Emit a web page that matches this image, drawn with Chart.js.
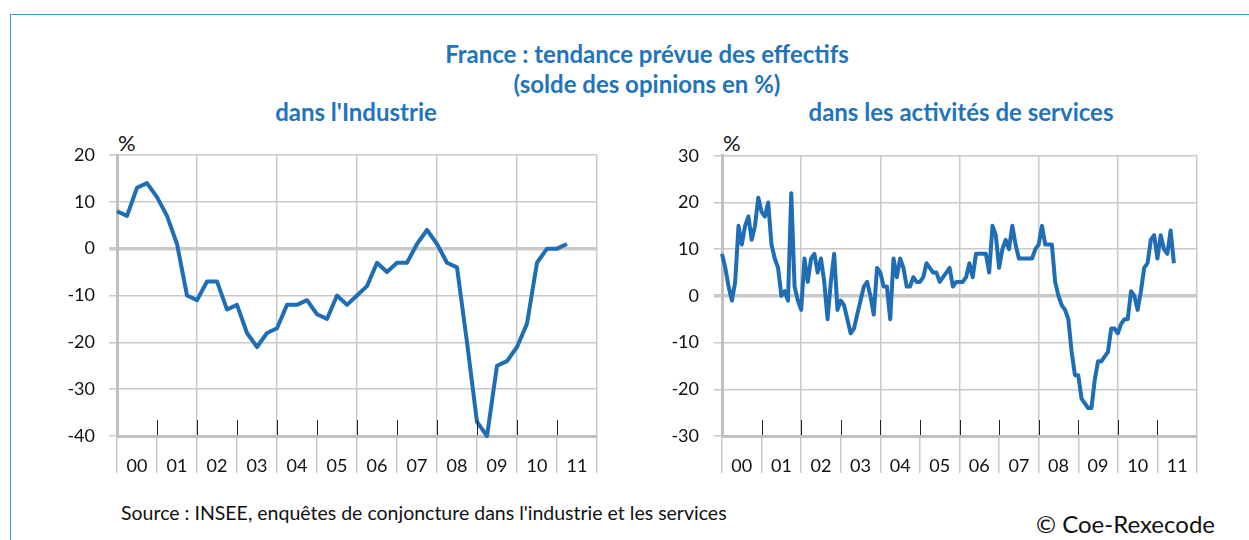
<!DOCTYPE html>
<html>
<head>
<meta charset="utf-8">
<script src="https://cdn.jsdelivr.net/npm/chart.js@4/dist/chart.umd.min.js"></script>
<style>
  html, body { margin: 0; padding: 0; background: #fff; }
  body { width: 1249px; height: 540px; position: relative; overflow: hidden; font-family: Lato, "Open Sans", sans-serif; }
  .frame { position: absolute; left: 10px; top: 14px; width: 1400px; height: 700px; border-left: 1.5px solid #4a9ad6; border-top: 1.5px solid #4a9ad6; }
  .t { position: absolute; text-align: center; color: #1f74bb; font-weight: bold; font-size: 24px; line-height: 28px; white-space: nowrap; }
  .pct { position: absolute; color: #111; font-size: 22px; line-height: 22px; }
  .src { position: absolute; color: #111; font-size: 19.5px; line-height: 22px; white-space: nowrap; }
  canvas { position: absolute; }
</style>
</head>
<body>
<div class="frame"></div>
<div class="t" style="left:347px; width:600px; top:40px;">France : tendance prévue des effectifs</div>
<div class="t" style="left:347px; width:600px; top:70px;">(solde des opinions en %)</div>
<div class="t" style="left:56px; width:600px; top:98px;">dans l'Industrie</div>
<div class="t" style="left:661px; width:600px; top:98px;">dans les activités de services</div>
<div class="pct" style="left:118px; top:132px;">%</div>
<div class="pct" style="left:723px; top:132px;">%</div>
<canvas id="c1" width="570" height="350" style="left:40px; top:130px;"></canvas>
<canvas id="c2" width="565" height="350" style="left:645px; top:130px;"></canvas>
<div class="src" style="left:121px; top:502px;">Source : INSEE, enquêtes de conjoncture dans l'industrie et les services</div>
<div class="src" style="right:34px; top:511px; font-size:24px; line-height:26px;">© Coe-Rexecode</div>

<script>
// ---- Data ----
const yearLabels = ['00','01','02','03','04','05','06','07','08','09','10','11'];
const firstYear = 2000;

// Industrie: quarterly, 2000Q1 - 2011Q2
const industryValues = [
  8, 7, 13, 14,
  11, 7, 1, -10,
  -11, -7, -7, -13,
  -12, -18, -21, -18,
  -17, -12, -12, -11,
  -14, -15, -10, -12,
  -10, -8, -3, -5,
  -3, -3, 1, 4,
  1, -3, -4, -20,
  -37, -40, -25, -24,
  -21, -16, -3, 0,
  0, 1
];

// Services: monthly, 2000M01 - 2011M06
const servicesValues = [
  9, 6, 2, -1, 3, 15, 11, 15, 17, 12, 15, 21,
  18, 17, 20, 11, 8, 6, 0, 1, -1, 22, 2, -1,
  -3, 8, 3, 8, 9, 5, 8, 3, -5, 3, 9, -3,
  -1, -2, -5, -8, -7, -4, -1, 2, 3, 0, -4, 6,
  5, 2, 2, -5, 8, 4, 8, 6, 2, 2, 4, 3,
  3, 4, 7, 6, 5, 5, 3, 4, 5, 6, 2, 3,
  3, 3, 4, 7, 4, 9, 9, 9, 9, 5, 15, 13,
  6, 10, 12, 10, 15, 11, 8, 8, 8, 8, 8, 10,
  11, 15, 11, 11, 11, 3, 0, -2, -3, -5, -12, -17,
  -17, -22, -23, -24, -24, -18, -14, -14, -13, -12, -7, -7,
  -8, -6, -5, -5, 1, 0, -3, 1, 6, 7, 12, 13,
  8, 13, 10, 9, 14, 7
];

const industryTicks = [-40, -30, -20, -10, 0, 10, 20];
const servicesTicks = [-30, -20, -10, 0, 10, 20, 30];

// ---- Styling ----
const LINE = '#1f6db5';
const GRID = '#c9c9c9';
const AXIS = '#c0c0c0';
Chart.defaults.font.family = 'Lato, "Open Sans", sans-serif';
Chart.defaults.color = '#111';

function toPoints(values, perYear) {
  return values.map((v, i) => ({ x: firstYear + i / perYear, y: v }));
}

const innerTicks = {
  id: 'innerTicks',
  afterDatasetsDraw(chart) {
    const xs = chart.scales.x, area = chart.chartArea, ctx = chart.ctx;
    ctx.save();
    ctx.strokeStyle = '#222';
    ctx.lineWidth = 1;
    for (let k = 1; k < yearLabels.length; k++) {
      const px = Math.round(xs.getPixelForValue(firstYear + k)) + 0.5;
      ctx.beginPath();
      ctx.moveTo(px, area.bottom - 1);
      ctx.lineTo(px, area.bottom - 16);
      ctx.stroke();
    }
    ctx.restore();
  }
};

function makeChart(id, values, perYear, yTicks, labelPad) {
  const lastYear = firstYear + yearLabels.length;
  return new Chart(document.getElementById(id), {
    type: 'line',
    data: {
      datasets: [{
        data: toPoints(values, perYear),
        borderColor: LINE,
        borderWidth: 4,
        pointRadius: 0,
        tension: 0,
        borderJoinStyle: 'round',
        clip: 4
      }]
    },
    options: {
      responsive: false,
      animation: false,
      devicePixelRatio: 1,
      layout: { padding: { top: 25, right: 13, left: 0, bottom: 0 } },
      plugins: { legend: { display: false }, tooltip: { enabled: false } },
      scales: {
        x: {
          type: 'linear',
          min: firstYear,
          max: lastYear,
          afterBuildTicks(scale) {
            const t = [];
            for (let k = 0; k <= yearLabels.length; k++) {
              t.push({ value: firstYear + k });
              if (k < yearLabels.length) t.push({ value: firstYear + k + 0.5 });
            }
            scale.ticks = t;
          },
          afterFit(scale) { scale.height = 44; },
          ticks: {
            autoSkip: false,
            maxRotation: 0,
            padding: -18,
            font: { size: 18 },
            callback(v) {
              if (Number.isInteger(v)) return '';
              return yearLabels[Math.floor(v) - firstYear];
            }
          },
          grid: {
            tickLength: 37,
            lineWidth: 1.5,
            color(ctx) {
              const v = ctx.tick ? ctx.tick.value : null;
              return (v !== null && Number.isInteger(v) && (v - firstYear) % 2 === 0) ? GRID : 'rgba(0,0,0,0)';
            },
            tickColor(ctx) {
              const v = ctx.tick ? ctx.tick.value : null;
              return (v !== null && Number.isInteger(v)) ? GRID : 'rgba(0,0,0,0)';
            },
            tickWidth: 1.5
          },
          border: { display: true, color: AXIS, width: 3 }
        },
        y: {
          min: yTicks[0],
          max: yTicks[yTicks.length - 1],
          afterBuildTicks(scale) { scale.ticks = yTicks.map(v => ({ value: v })); },
          afterFit(scale) { scale.width = 77; },
          ticks: { padding: labelPad, font: { size: 18 }, color: '#111' },
          grid: {
            tickLength: 8,
            color: GRID,
            tickColor: GRID,
            lineWidth(ctx) { return ctx.tick && ctx.tick.value === 0 ? 3.5 : 1.5; }
          },
          border: { display: true, color: AXIS, width: 3 }
        }
      }
    },
    plugins: [innerTicks]
  });
}

makeChart('c1', industryValues, 4, industryTicks, 14);
makeChart('c2', servicesValues, 12, servicesTicks, 15);
</script>
</body>
</html>
